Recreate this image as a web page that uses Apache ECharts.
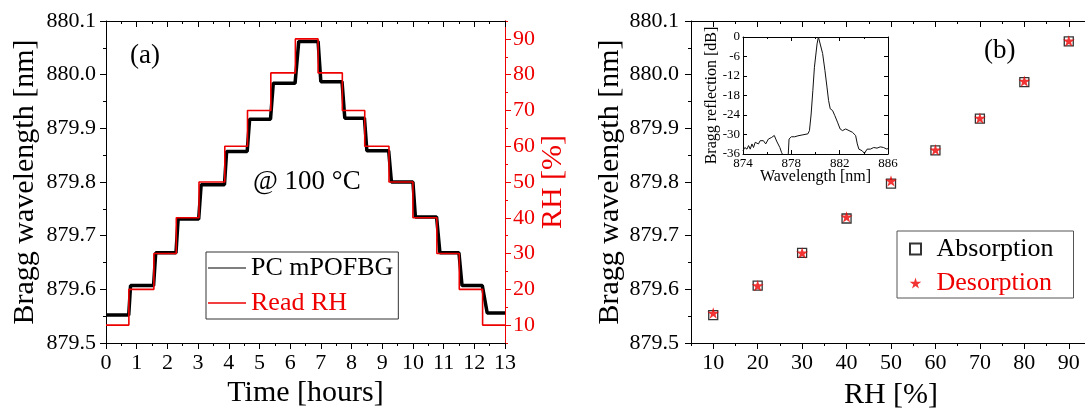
<!DOCTYPE html>
<html>
<head>
<meta charset="utf-8">
<script src="https://cdn.jsdelivr.net/npm/echarts@6/dist/echarts.min.js"></script>
<style>
  html, body { margin: 0; padding: 0; background: #fff; }
  #main { width: 1085px; height: 412px; }
</style>
</head>
<body>
<div id="main"></div>
<script>
// (a) time trace: Bragg wavelength knots (black) and read RH steps (red)
const traceHours = [0, 0.74, 0.80, 1.55, 1.62, 2.28, 2.35, 3.02, 3.10, 3.86, 3.93, 4.60, 4.68, 5.36, 5.45, 6.16, 6.28, 6.91, 7.00, 7.69, 7.78, 8.42, 8.50, 9.21, 9.30, 10.0, 10.08, 10.77, 10.88, 11.50, 11.60, 12.26, 12.42, 13];
const traceWave = [879.552, 879.552, 879.607, 879.607, 879.668, 879.668, 879.731, 879.731, 879.795, 879.795, 879.857, 879.857, 879.917, 879.917, 879.984, 879.984, 880.062, 880.062, 879.987, 879.987, 879.919, 879.919, 879.858, 879.858, 879.800, 879.800, 879.735, 879.735, 879.668, 879.668, 879.607, 879.607, 879.556, 879.556];
const rhHours = [0, 0.745, 1.56, 2.29, 3.03, 3.87, 4.61, 5.37, 6.17, 6.91, 7.70, 8.43, 9.22, 10.0, 10.78, 11.51, 12.27, 13];
const rhRead = [10, 20, 30, 40, 50, 60, 70, 80.5, 90, 80.5, 70, 60, 50, 40, 30, 20, 10, 10];

// (b) wavelength vs RH
const rhLevels = [10, 20, 30, 40, 50, 60, 70, 80, 90];
const absorption = [879.552, 879.607, 879.668, 879.732, 879.797, 879.859, 879.918, 879.986, 880.062];
const desorption = [879.556, 879.607, 879.668, 879.735, 879.802, 879.860, 879.919, 879.988, 880.063];

// inset spectrum
const specNm = [874.0, 874.15, 874.33, 874.46, 874.6, 874.74, 874.87, 875.01, 875.28, 875.42, 875.55, 875.69, 875.88, 876.10, 876.37, 876.59, 876.78, 877.05, 877.19, 877.32, 877.45, 877.72, 877.81, 878.0, 878.28, 878.55, 878.96, 879.37, 879.50, 879.64, 879.78, 879.91, 880.13, 880.24, 880.40, 880.59, 880.78, 880.95, 881.08, 881.22, 881.41, 881.60, 881.82, 882.04, 882.23, 882.50, 882.77, 883.05, 883.32, 883.46, 883.59, 883.86, 884.05, 884.27, 884.54, 884.82, 885.09, 885.36, 885.63, 885.91, 886.0];
const specDb = [-35, -34, -34.5, -33.4, -34.5, -32.9, -34, -32.4, -32.9, -31.9, -32.4, -31.9, -32.9, -31.4, -30.9, -30.3, -32, -34, -35.5, -36.5, -38, -38, -31.4, -30.7, -30.7, -30.4, -30.1, -29.8, -28.8, -23.7, -16.5, -9.3, -2.1, 0, -0.5, -5.1, -10.3, -15.4, -19.5, -22.1, -22.6, -24.2, -26.2, -28.3, -28.8, -28.3, -28.8, -29.3, -30.3, -32.9, -34.5, -35, -35.8, -34.5, -34.5, -34, -34.2, -33.8, -34, -34.5, -34.3];

const wlRange = [879.5, 880.1];
const rhTicks = [10, 20, 30, 40, 50, 60, 70, 80, 90];

const FONT = 'Liberation Serif';
const BLACK = '#000';
const RED = '#ee0000';
const SQUARE = 'path://M0,0 H10 V10 H0 Z';
const STAR = 'path://M50,0 L61,35 L98,35 L68,57 L79,91 L50,70 L21,91 L32,57 L2,35 L39,35 Z';

const zip = (a, b) => a.map((v, i) => [v, b[i]]);

function axis(o) {
  const color = o.color || BLACK;
  return Object.assign({
    type: 'value',
    scale: true,
    axisLine: { show: true, onZero: false, lineStyle: { color: color, width: 1 } },
    splitLine: { show: false },
    minorSplitLine: { show: false },
    nameMoveOverlap: false
  }, o.base, {
    axisTick: Object.assign({ show: true, inside: false, length: 6, lineStyle: { color: color, width: 1 } }, o.tick),
    minorTick: Object.assign({ show: false, splitNumber: 2, length: 3, lineStyle: { color: color, width: 1 } }, o.minor),
    axisLabel: Object.assign({ show: false, fontFamily: FONT, color: color }, o.label),
    nameTextStyle: { fontFamily: FONT, fontSize: o.nameSize || 30, color: color }
  });
}

const chart = echarts.init(document.getElementById('main'), null, { renderer: 'canvas' });

const option = {
  backgroundColor: '#fff',
  animation: false,
  grid: [
    { left: 106, top: 21, width: 399, height: 322, containLabel: false, outerBoundsMode: 'none' },
    { left: 691, top: 21, width: 400, height: 322, containLabel: false, outerBoundsMode: 'none' },
    { left: 743, top: 37, width: 145, height: 117, containLabel: false, outerBoundsMode: 'none' }
  ],
  xAxis: [
    // (a)
    axis({ base: { gridIndex: 0, position: 'bottom', min: 0, max: 13, interval: 1,
      name: 'Time [hours]', nameLocation: 'middle', nameGap: 35 },
      minor: { show: true },
      label: { show: true, fontSize: 22, margin: 9 } }),
    axis({ base: { gridIndex: 0, position: 'top', min: 0, max: 13, interval: 1 },
      tick: { inside: true }, minor: { show: true } }),
    // (b)
    axis({ base: { gridIndex: 1, position: 'bottom', min: 5, max: 95,
      name: 'RH [%]', nameLocation: 'middle', nameGap: 37 },
      tick: { customValues: rhTicks },
      label: { show: true, fontSize: 22, margin: 9, customValues: rhTicks } }),
    axis({ base: { gridIndex: 1, position: 'bottom', min: 5, max: 95, interval: 5 },
      tick: { length: 3 } }),
    axis({ base: { gridIndex: 1, position: 'top', min: 5, max: 95 },
      tick: { inside: true, customValues: rhTicks } }),
    axis({ base: { gridIndex: 1, position: 'top', min: 5, max: 95, interval: 5 },
      tick: { inside: true, length: 3 } }),
    // inset
    axis({ nameSize: 16, base: { gridIndex: 2, position: 'bottom', min: 874, max: 886, interval: 4,
      name: 'Wavelength [nm]', nameLocation: 'middle', nameGap: 15 },
      tick: { inside: true, length: 4 }, minor: { show: true, length: 2 },
      label: { show: true, fontSize: 13, margin: 3 } }),
    axis({ base: { gridIndex: 2, position: 'top', min: 874, max: 886, interval: 4 },
      tick: { inside: true, length: 4 }, minor: { show: true, length: 2 } })
  ],
  yAxis: [
    // (a) left
    axis({ base: { gridIndex: 0, position: 'left', min: wlRange[0], max: wlRange[1], interval: 0.1,
      name: 'Bragg wavelength [nm]', nameLocation: 'middle', nameGap: 66, nameRotate: 90 },
      minor: { show: true },
      label: { show: true, fontSize: 22, margin: 10, formatter: v => v.toFixed(1) } }),
    // (a) right red RH
    axis({ color: RED, base: { gridIndex: 0, position: 'right', min: 5, max: 95,
      name: 'RH [%]', nameLocation: 'middle', nameGap: 33, nameRotate: 90 },
      tick: { customValues: rhTicks },
      label: { show: true, fontSize: 22, margin: 8, customValues: rhTicks } }),
    axis({ color: RED, base: { gridIndex: 0, position: 'right', min: 5, max: 95, interval: 5 },
      tick: { length: 3 } }),
    // (b) left
    axis({ base: { gridIndex: 1, position: 'left', min: wlRange[0], max: wlRange[1], interval: 0.1,
      name: 'Bragg wavelength [nm]', nameLocation: 'middle', nameGap: 66, nameRotate: 90 },
      minor: { show: true },
      label: { show: true, fontSize: 22, margin: 12, formatter: v => v.toFixed(1) } }),
    axis({ base: { gridIndex: 1, position: 'right', min: wlRange[0], max: wlRange[1], interval: 0.1 },
      tick: { inside: true }, minor: { show: true } }),
    // inset
    axis({ nameSize: 16, base: { gridIndex: 2, position: 'left', min: -36, max: 0, interval: 6,
      name: 'Bragg reflection [dB]', nameLocation: 'middle', nameGap: 23, nameRotate: 90 },
      tick: { inside: true, length: 4 },
      label: { show: true, fontSize: 13, margin: 3 } }),
    axis({ base: { gridIndex: 2, position: 'right', min: -36, max: 0, interval: 6 },
      tick: { inside: true, length: 4 } })
  ],
  legend: [
    {
      orient: 'vertical', left: 206, top: 252,
      borderColor: '#333', borderWidth: 1, padding: [3, 5, 3, 2], itemGap: 9,
      itemWidth: 38, itemHeight: 1.6, icon: 'rect',
      textStyle: { fontFamily: FONT, fontSize: 26 },
      data: [
        { name: 'PC mPOFBG', textStyle: { color: BLACK }, itemStyle: { color: '#555' } },
        { name: 'Read RH', textStyle: { color: RED }, itemStyle: { color: RED } }
      ]
    },
    {
      orient: 'vertical', left: 897, top: 231,
      borderColor: '#555', borderWidth: 1, padding: [5, 20, 2, 12], itemGap: 8,
      itemWidth: 32, itemHeight: 11, symbolKeepAspect: true,
      textStyle: { fontFamily: FONT, fontSize: 26 },
      data: [
        { name: 'Absorption', textStyle: { color: BLACK } },
        { name: 'Desorption', textStyle: { color: RED } }
      ]
    }
  ],
  graphic: [
    { type: 'text', left: 130, top: 42, style: { text: '(a)', font: '27px "Liberation Serif"', fill: BLACK } },
    { type: 'text', left: 253, top: 168, style: { text: '@ 100 °C', font: '27px "Liberation Serif"', fill: BLACK } },
    { type: 'text', left: 984, top: 37, style: { text: '(b)', font: '27px "Liberation Serif"', fill: BLACK } }
  ],
  series: [
    {
      name: 'PC mPOFBG', type: 'line', xAxisIndex: 0, yAxisIndex: 0,
      data: zip(traceHours, traceWave), showSymbol: false, symbol: 'none',
      lineStyle: { color: BLACK, width: 3.5 }, itemStyle: { color: BLACK }
    },
    {
      name: 'Read RH', type: 'line', xAxisIndex: 0, yAxisIndex: 1, step: 'end',
      data: zip(rhHours, rhRead), showSymbol: false, symbol: 'none',
      lineStyle: { color: RED, width: 1.6 }, itemStyle: { color: RED }
    },
    {
      name: 'Absorption', type: 'scatter', xAxisIndex: 2, yAxisIndex: 3,
      data: zip(rhLevels, absorption), symbol: SQUARE, symbolSize: 9, symbolKeepAspect: true,
      itemStyle: { color: 'rgba(0,0,0,0)', borderColor: BLACK, borderWidth: 1.3 }
    },
    {
      name: 'Desorption', type: 'scatter', xAxisIndex: 2, yAxisIndex: 3,
      data: zip(rhLevels, desorption), symbol: STAR, symbolSize: 12, symbolKeepAspect: true,
      itemStyle: { color: RED }
    },
    {
      name: 'Spectrum', type: 'line', xAxisIndex: 6, yAxisIndex: 5,
      data: zip(specNm, specDb), showSymbol: false, symbol: 'none', clip: true,
      lineStyle: { color: '#111', width: 1 }
    }
  ]
};

chart.setOption(option);
</script>
</body>
</html>
